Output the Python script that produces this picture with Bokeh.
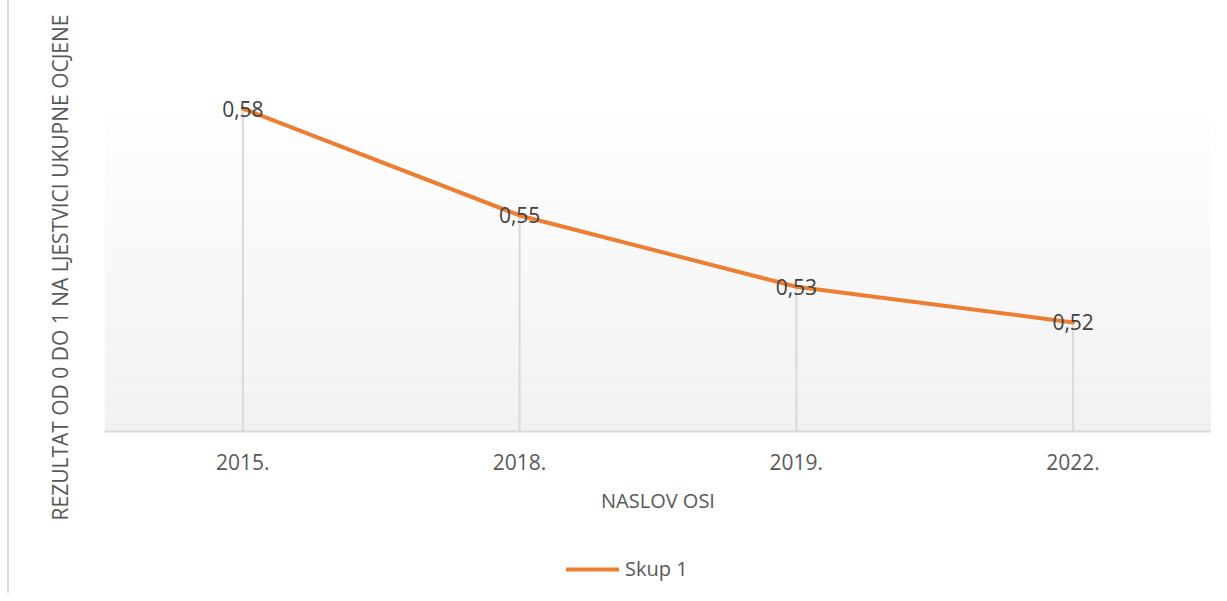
from bokeh.plotting import figure
from bokeh.layouts import column
from bokeh.models import (Range1d, FixedTicker, Legend, LegendItem, Title, ColumnDataSource)
from bokeh.core.properties import value
from bokeh.embed import file_html
from bokeh.resources import INLINE

# ---- data ----
years = ["2015.", "2018.", "2019.", "2022."]
scores = [0.58, 0.55, 0.53, 0.52]
series_name = "Skup 1"
x_title = "NASLOV OSI"
y_title = "REZULTAT OD 0 DO 1 NA LJESTVICI UKUPNE OCJENE"

FONT = "Open Sans"
LINE_COLOR = "#ED7D31"
Y_MIN, Y_MAX = 0.4894, 0.6103
GRAD_TOP = 0.5778
BORDER_STYLE = {"margin-left": "7px", "border-left": "2px solid #d9d9d9"}

xs = [i + 0.5 for i in range(len(years))]
labels = [f"{v:.2f}".replace(".", ",") for v in scores]

p = figure(frame_width=1105, frame_height=431, output_backend="svg", toolbar_location=None,
           x_range=Range1d(0, len(years)), y_range=Range1d(Y_MIN, Y_MAX),
           min_border_left=95, min_border_right=2, min_border_top=0, min_border_bottom=99,
           background_fill_color="white", border_fill_color="white", outline_line_color=None)
p.styles = dict(BORDER_STYLE)
p.grid.visible = False

# gradient plot-area background (horizontal bands)
n = 60
lefts, rights, bottoms, tops, cols = [], [], [], [], []
c_top = (0xfe, 0xfe, 0xfe)
c_bot = (0xf1, 0xf1, 0xf1)
for i in range(n):
    b = Y_MIN + (GRAD_TOP - Y_MIN) * i / n
    t = Y_MIN + (GRAD_TOP - Y_MIN) * (i + 1) / n
    f = (i + 0.5) / n
    c = tuple(round(c_bot[k] + (c_top[k] - c_bot[k]) * f) for k in range(3))
    lefts.append(0); rights.append(len(years)); bottoms.append(b); tops.append(t)
    cols.append("#%02x%02x%02x" % c)
p.quad(left=lefts, right=rights, bottom=bottoms, top=tops, fill_color=cols, line_color=None)

# drop lines
p.segment(x0=xs, y0=[Y_MIN] * len(xs), x1=xs, y1=scores, line_color="#d9d9d9", line_width=2)

# series line
src = ColumnDataSource(dict(x=xs, y=scores, lab=labels))
r = p.line("x", "y", source=src, line_color=LINE_COLOR, line_width=4,
           line_cap="round", line_join="round")

# data labels
p.text("x", "y", text="lab", source=src, text_align="center", text_baseline="middle",
       text_font=value(FONT), text_font_size="21px", text_color="#404040")

# x axis
xa = p.xaxis[0]
xa.ticker = FixedTicker(ticks=xs)
xa.major_label_overrides = {x: y for x, y in zip(xs, years)}
xa.axis_line_color = "#d9d9d9"
xa.axis_line_width = 2
xa.major_tick_line_color = None
xa.minor_tick_line_color = None
xa.major_tick_out = 0
xa.major_label_standoff = 22
xa.major_label_text_font = FONT
xa.major_label_text_font_size = "21px"
xa.major_label_text_color = "#595959"
xa.axis_label = x_title
xa.axis_label_standoff = 14
xa.axis_label_text_font = FONT
xa.axis_label_text_font_size = "20px"
xa.axis_label_text_font_style = "normal"
xa.axis_label_text_color = "#595959"

p.yaxis.visible = False

# y title (starts near the bottom of the chart, reads upwards)
yt = Title(text=y_title, align="left", offset=-89, standoff=61, text_font=FONT,
           text_font_size="21px", text_font_style="normal", text_color="#595959")
p.add_layout(yt, "left")

# legend strip below the chart (its frame is aligned with the chart frame by the column)
lf = figure(width=1202, height=63, output_backend="svg", toolbar_location=None,
            x_range=Range1d(-2, -1), y_range=Range1d(-2, -1), min_border=0,
            x_axis_location=None, y_axis_location=None,
            background_fill_color="white", border_fill_color="white", outline_line_color=None)
lf.styles = dict(BORDER_STYLE)
lf.grid.visible = False
# same series, out of this strip's view: used only for the legend swatch
proxy = lf.line("x", "y", source=src, line_color=LINE_COLOR, line_width=4, line_cap="round")
legend = Legend(items=[LegendItem(label=series_name, renderers=[proxy])], orientation="horizontal",
                location=(462, 11), border_line_color=None, background_fill_alpha=0,
                label_text_font=FONT, label_text_font_size="20px", label_text_color="#595959",
                glyph_width=53, glyph_height=20, label_height=20, label_standoff=6,
                padding=0, margin=0, spacing=0)
lf.add_layout(legend)

layout = column(p, lf, spacing=0)
open("out.html", "w").write(file_html(layout, INLINE))
